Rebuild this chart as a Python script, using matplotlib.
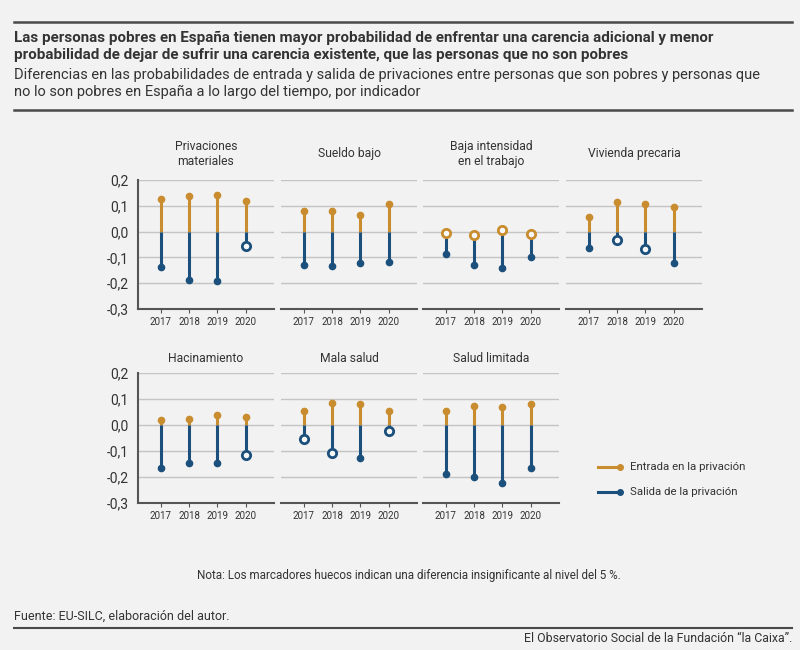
import matplotlib.pyplot as plt
from matplotlib.lines import Line2D
from matplotlib.ticker import FuncFormatter

plt.rcParams['font.family'] = ['Roboto', 'DejaVu Sans']

# datos
years = ['2017', '2018', '2019', '2020']
indicadores = ['Privaciones\nmateriales', 'Sueldo bajo', 'Baja intensidad\nen el trabajo',
               'Vivienda precaria', 'Hacinamiento', 'Mala salud', 'Salud limitada']

entrada = [
    [0.125, 0.139, 0.141, 0.118],
    [0.080, 0.080, 0.063, 0.106],
    [-0.004, -0.012, 0.005, -0.009],
    [0.055, 0.114, 0.106, 0.094],
    [0.019, 0.023, 0.039, 0.031],
    [0.053, 0.084, 0.081, 0.052],
    [0.055, 0.075, 0.068, 0.080],
]
salida = [
    [-0.139, -0.186, -0.192, -0.055],
    [-0.129, -0.133, -0.123, -0.119],
    [-0.088, -0.131, -0.141, -0.097],
    [-0.063, -0.031, -0.068, -0.122],
    [-0.166, -0.148, -0.148, -0.115],
    [-0.055, -0.107, -0.125, -0.023],
    [-0.187, -0.199, -0.222, -0.165],
]
# True = marcador hueco (diferencia no significativa)
entrada_hueco = [
    [False, False, False, False],
    [False, False, False, False],
    [True, True, True, True],
    [False, False, False, False],
    [False, False, False, False],
    [False, False, False, False],
    [False, False, False, False],
]
salida_hueco = [
    [False, False, False, True],
    [False, False, False, False],
    [False, False, False, False],
    [False, True, True, False],
    [False, False, False, True],
    [True, True, False, True],
    [False, False, False, False],
]

BG = '#f2f2f2'
ORANGE = '#c98c2f'
BLUE = '#1b4f7c'
TXT = '#333333'
GRID = '#c4c4c4'
DARK = '#555555'

W, H = 800, 650
fig = plt.figure(figsize=(8, 6.5), dpi=100, facecolor=BG)


def fx(px):
    return px / W


def fy(py):
    return 1 - py / H


lefts = [138, 281, 423, 566]
width = 136
rows = [(180, 309, 154), (373, 503, 358)]  # top, bottom, centro del titulo (px)


def punto(ax, x, y, color, hueco):
    if hueco:
        ax.plot(x, y, 'o', ms=6, mfc='#f8f8f8', mec=color, mew=2, zorder=4, clip_on=False)
    else:
        ax.plot(x, y, 'o', ms=4.5, color=color, zorder=4, clip_on=False)


for k, nombre in enumerate(indicadores):
    r, c = divmod(k, 4)
    top, bot, tc = rows[r]
    ax = fig.add_axes([fx(lefts[c]), fy(bot), fx(width), (bot - top) / H])
    ax.set_facecolor(BG)
    xs = range(len(years))
    ax.vlines(xs, 0, entrada[k], color=ORANGE, lw=2.2, zorder=2)
    ax.vlines(xs, 0, salida[k], color=BLUE, lw=2.2, zorder=3)
    for i in xs:
        punto(ax, i, entrada[k][i], ORANGE, entrada_hueco[k][i])
        punto(ax, i, salida[k][i], BLUE, salida_hueco[k][i])

    ax.set_xlim(-0.8, 4.0)
    ax.set_ylim(-0.3, 0.2)
    ax.set_xticks(list(xs))
    ax.set_xticklabels(years)
    ax.set_yticks([-0.3, -0.2, -0.1, 0.0, 0.1, 0.2])
    ax.yaxis.set_major_formatter(FuncFormatter(lambda v, p: f'{v:.1f}'.replace('.', ',').replace('-0,0', '0,0')))
    ax.grid(axis='y', color=GRID, lw=1)
    ax.set_axisbelow(True)
    for s in ['top', 'right']:
        ax.spines[s].set_visible(False)
    ax.spines['bottom'].set_color(DARK)
    ax.spines['bottom'].set_linewidth(1.5)
    ax.tick_params(axis='x', length=3, color=DARK, labelsize=7, labelcolor=TXT, pad=3)
    ax.tick_params(axis='y', length=0, labelsize=10, labelcolor=TXT, pad=7)
    if c == 0:
        ax.spines['left'].set_color(DARK)
        ax.spines['left'].set_linewidth(1.5)
    else:
        ax.spines['left'].set_visible(False)
        ax.tick_params(labelleft=False)

    fig.text(fx(lefts[c] + width / 2), fy(tc), nombre, ha='center', va='center',
             fontsize=8.7, color=TXT, linespacing=1.25)

# leyenda
for y, col, lab in [(467, ORANGE, 'Entrada en la privación'), (492, BLUE, 'Salida de la privación')]:
    fig.add_artist(Line2D([fx(598), fx(620)], [fy(y), fy(y)], color=col, lw=2.2))
    fig.add_artist(Line2D([fx(620)], [fy(y)], marker='o', ms=4, color=col))
    fig.text(fx(630), fy(y), lab, ha='left', va='center', fontsize=8.2, color=TXT)

# titulos
fig.add_artist(Line2D([fx(14), fx(792)], [fy(22), fy(22)], color='#4a4a4a', lw=1.8))
fig.add_artist(Line2D([fx(14), fx(792)], [fy(110), fy(110)], color='#4a4a4a', lw=1.8))
fig.text(fx(14), fy(38), 'Las personas pobres en España tienen mayor probabilidad de enfrentar una carencia adicional y menor',
         fontsize=10.9, fontweight='bold', color=TXT, va='center')
fig.text(fx(14), fy(55), 'probabilidad de dejar de sufrir una carencia existente, que las personas que no son pobres',
         fontsize=10.9, fontweight='bold', color=TXT, va='center')
fig.text(fx(14), fy(75), 'Diferencias en las probabilidades de entrada y salida de privaciones entre personas que son pobres y personas que',
         fontsize=10.5, color=TXT, va='center')
fig.text(fx(14), fy(92), 'no lo son pobres en España a lo largo del tiempo, por indicador',
         fontsize=10.5, color=TXT, va='center')

# notas
fig.text(fx(409), fy(575), 'Nota: Los marcadores huecos indican una diferencia insignificante al nivel del 5 %.',
         ha='center', va='center', fontsize=8.4, color=TXT)
fig.text(fx(14), fy(616), 'Fuente: EU-SILC, elaboración del autor.', ha='left', va='center', fontsize=9, color=TXT)
fig.add_artist(Line2D([fx(14), fx(792)], [fy(628), fy(628)], color='#4a4a4a', lw=1.5))
fig.text(fx(792), fy(638), 'El Observatorio Social de la Fundación “la Caixa”.', ha='right', va='center',
         fontsize=8.9, color=TXT)

fig.savefig('out.png', dpi=100, facecolor=BG)
